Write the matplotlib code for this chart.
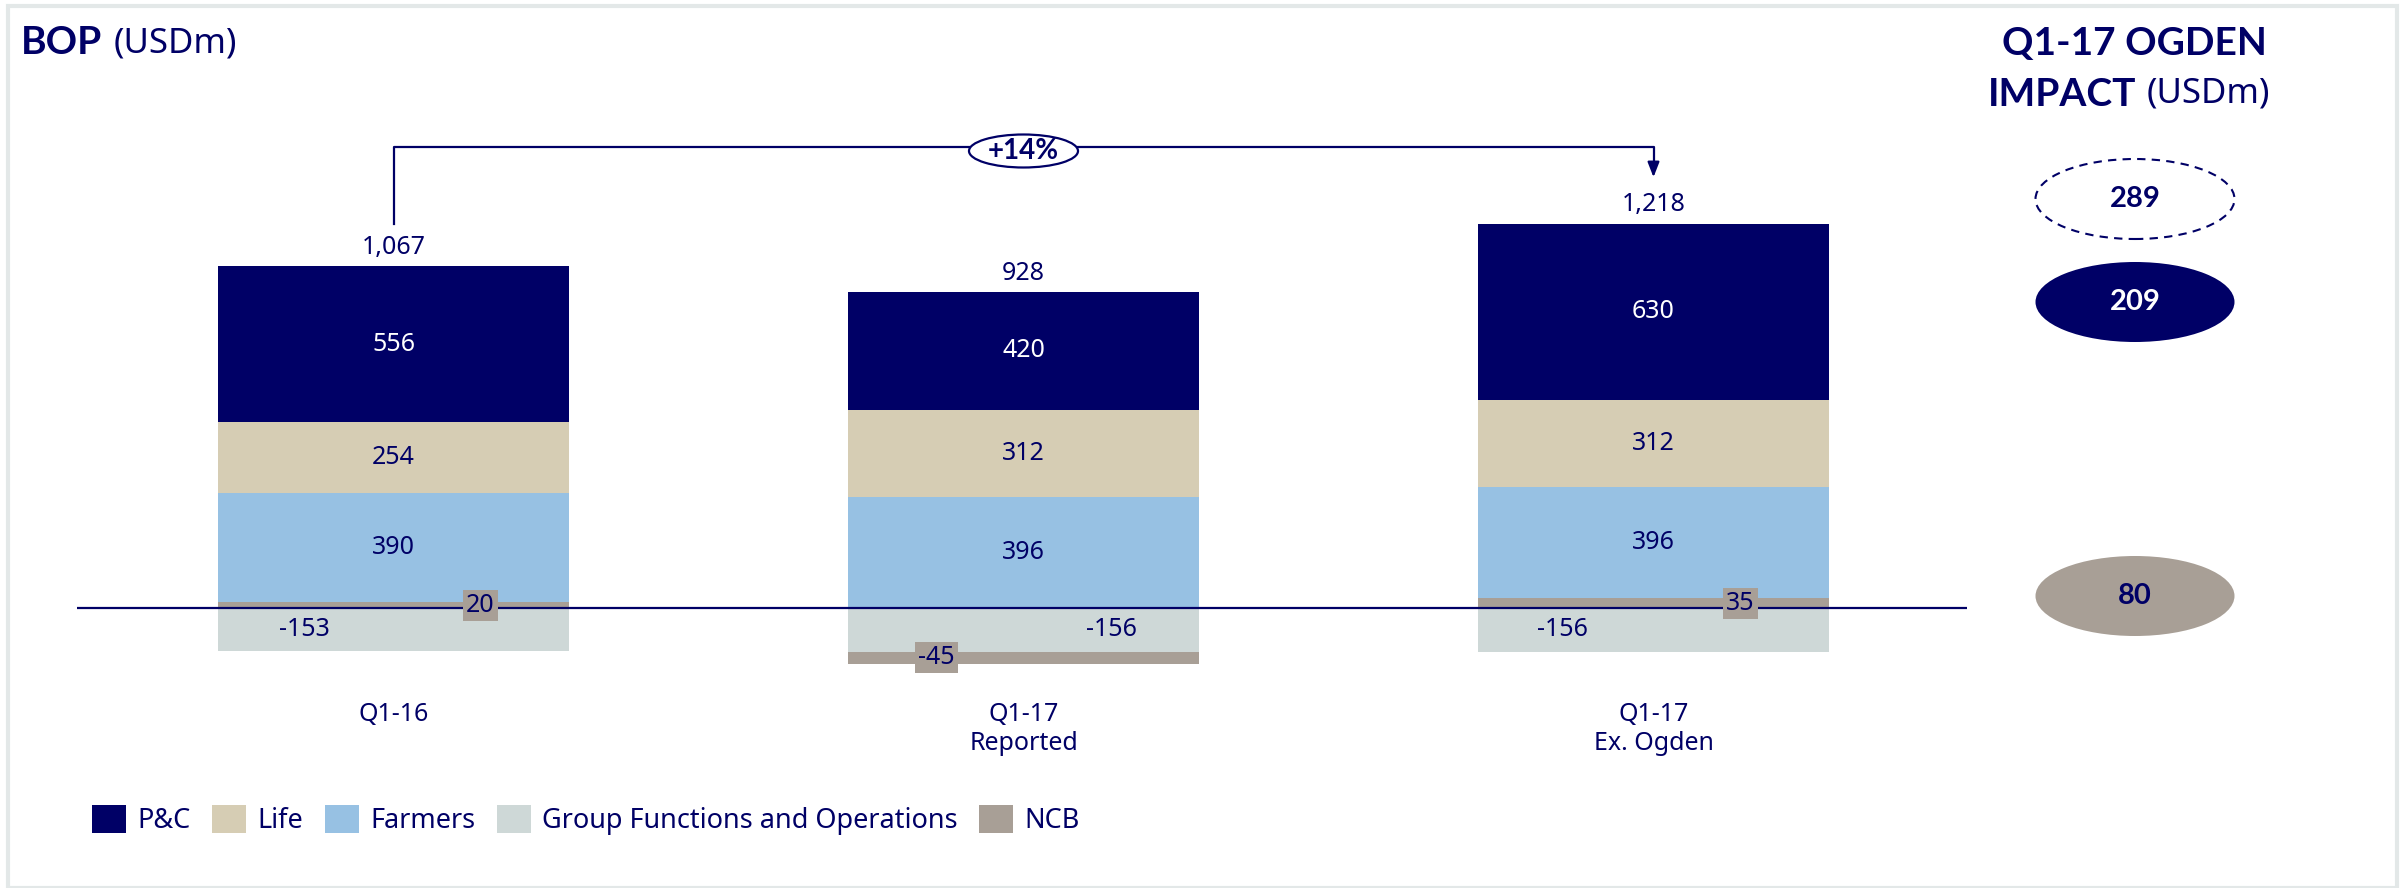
import numpy as np
import matplotlib.pyplot as plt
from matplotlib.patches import Ellipse, Rectangle

plt.rcParams['font.family'] = ['Noto Sans', 'DejaVu Sans']
BOLD = ['Lato', 'DejaVu Sans']

NAVY = '#000066'

categories = ['Q1-16', 'Q1-17\nReported', 'Q1-17\nEx. Ogden']
pc = [556, 420, 630]
life = [254, 312, 312]
farmers = [390, 396, 396]
gfo = [-153, -156, -156]
ncb = [20, -45, 35]
totals = [1067, 928, 1218]
growth_label = '+14%'

ogden_values = [289, 209, 80]

series_names = ['P&C', 'Life', 'Farmers', 'Group Functions and Operations', 'NCB']
colors = {'P&C': '#000066', 'Life': '#D6CDB4', 'Farmers': '#97C1E3',
          'Group Functions and Operations': '#CED8D7', 'NCB': '#A89F96'}

W, H = 2406, 888
fig = plt.figure(figsize=(W / 100, H / 100), dpi=100)
ax = fig.add_axes([0, 0, 1, 1])
# 1 x unit = 630 px, bar centre 0 at 393 px; 1 y unit = 0.28 px, zero at 608 px
ax.set_xlim(-393.5 / 630, (W - 393.5) / 630)
ax.set_ylim(-(H - 608) / 0.28, 608 / 0.28)
ax.axis('off')

x = np.arange(len(categories))
bw = 0.557

pos_bottom = np.zeros(len(x))
neg_bottom = np.zeros(len(x))

# NCB positive sits on zero, then farmers, life, P&C
ncb_arr = np.array(ncb, dtype=float)
ncb_pos = np.where(ncb_arr > 0, ncb_arr, 0)
ax.bar(x, ncb_pos, bw, bottom=pos_bottom, color=colors['NCB'])
pos_bottom += ncb_pos
for name, vals, tcol in [('Farmers', farmers, NAVY), ('Life', life, NAVY), ('P&C', pc, 'white')]:
    vals = np.array(vals, dtype=float)
    ax.bar(x, vals, bw, bottom=pos_bottom, color=colors[name])
    for xi, b, v in zip(x, pos_bottom, vals):
        ax.text(xi, b + v / 2, f'{int(v)}', ha='center', va='center', color=tcol, fontsize=18)
    pos_bottom += vals

# negatives: GFO below zero, then negative NCB
gfo_arr = np.array(gfo, dtype=float)
ax.bar(x, gfo_arr, bw, bottom=neg_bottom, color=colors['Group Functions and Operations'])
gfo_off = [-0.141, 0.14, -0.144]
for xi, v, o in zip(x, gfo_arr, gfo_off):
    ax.text(xi + o, v / 2, f'{int(v)}', ha='center', va='center', color=NAVY, fontsize=18)
neg_bottom += gfo_arr
ncb_neg = np.where(ncb_arr < 0, ncb_arr, 0)
ax.bar(x, ncb_neg, bw, bottom=neg_bottom, color=colors['NCB'])

ncb_off = [0.138, -0.138, 0.138]
for i, (xi, v, o) in enumerate(zip(x, ncb_arr, ncb_off)):
    yc = v / 2 if v > 0 else neg_bottom[i] + v / 2
    ax.text(xi + o, yc, f'{int(v)}', ha='center', va='center', color=NAVY, fontsize=18,
            bbox=dict(boxstyle='square,pad=0.12', fc=colors['NCB'], ec='none'))

# totals above the bars
for xi, top, t in zip(x, pos_bottom, totals):
    ax.text(xi, top + 68, f'{t:,}', ha='center', va='center', color=NAVY, fontsize=18)

# category labels
for xi, c in zip(x, categories):
    ax.text(xi, -335, c, ha='center', va='top', color=NAVY, fontsize=18, linespacing=1.2)

# zero line
ax.plot([-0.502, 2.498], [0, 0], color=NAVY, lw=1.6, solid_capstyle='butt')

# growth bracket
y_low = (608 - 224) / 0.28
y_top = (608 - 147) / 0.28
y_tip = (608 - 180) / 0.28
ax.plot([0, 0, 2, 2], [y_low, y_top, y_top, y_tip + 60], color=NAVY, lw=1.6)
ax.annotate('', xy=(2, y_tip), xytext=(2, y_tip + 70),
            arrowprops=dict(arrowstyle='-|>,head_length=0.9,head_width=0.35', color=NAVY, lw=1.6))
ax.add_patch(Ellipse((1, (608 - 151) / 0.28), 109 / 630, 33 / 0.28,
                     fc='white', ec=NAVY, lw=1.6, zorder=3))
ax.text(1, (608 - 151) / 0.28, growth_label, ha='center', va='center', color=NAVY,
        fontsize=20, fontweight='bold', family=BOLD, zorder=4)

# titles
fig.text(21 / W, 1 - 43 / H, 'BOP', ha='left', va='center', color=NAVY,
         fontsize=28, fontweight='bold', family=BOLD)
fig.text(114 / W, 1 - 43 / H, '(USDm)', ha='left', va='center', color=NAVY, fontsize=25)
fig.text(2134 / W, 1 - 43 / H, 'Q1-17 OGDEN', ha='center', va='center', color=NAVY,
         fontsize=28, fontweight='bold', family=BOLD)
fig.text(2136 / W, 1 - 94 / H, 'IMPACT', ha='right', va='center', color=NAVY,
         fontsize=28, fontweight='bold', family=BOLD)
fig.text(2147 / W, 1 - 94 / H, '(USDm)', ha='left', va='center', color=NAVY, fontsize=25)

# Ogden impact ellipses
ell_y = [199, 302, 596]
ell_style = [dict(fc='white', ec=NAVY, ls=(0, (4, 3)), lw=1.5, tc=NAVY),
             dict(fc=NAVY, ec='none', ls='-', lw=0, tc='white'),
             dict(fc=colors['NCB'], ec='none', ls='-', lw=0, tc=NAVY)]
for v, yy, st in zip(ogden_values, ell_y, ell_style):
    fig.patches.append(Ellipse((2135 / W, 1 - yy / H), 199 / W, 80 / H, transform=fig.transFigure,
                               fc=st['fc'], ec=st['ec'], ls=st['ls'], lw=st['lw']))
    fig.text(2135 / W, 1 - yy / H, str(v), ha='center', va='center', color=st['tc'],
             fontsize=21, fontweight='bold', family=BOLD)

# legend
handles = [Rectangle((0, 0), 1, 1, fc=colors[n], ec='none') for n in series_names]
fig.legend(handles, series_names, loc='center left', bbox_to_anchor=(92 / W, 1 - 820 / H),
           ncol=5, frameon=False, fontsize=19.5, labelcolor=NAVY, handlelength=1.25,
           handleheight=1.25, handletextpad=0.42, columnspacing=0.8,
           borderpad=0, borderaxespad=0)

# light frame around the slide
fig.patches.append(Rectangle((8 / W, 0), (2397 - 8) / W, 1 - 6 / H, transform=fig.transFigure,
                             fc='none', ec='#E3E8E8', lw=3))

fig.savefig('out.png', dpi=100)
